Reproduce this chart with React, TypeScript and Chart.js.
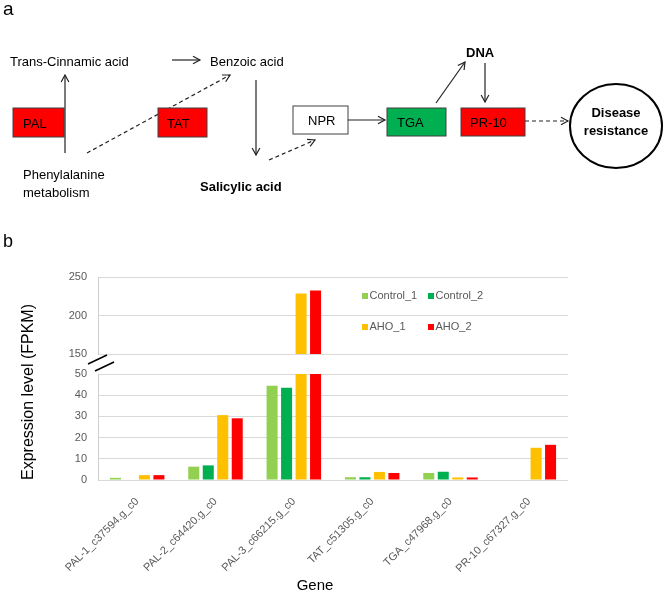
import React, { useEffect, useRef } from "react";
import { Chart, registerables } from "chart.js";

Chart.register(...registerables);

const categories = [
  "PAL-1_c37594.g_c0",
  "PAL-2_c64420.g_c0",
  "PAL-3_c66215.g_c0",
  "TAT_c51305.g_c0",
  "TGA_c47968.g_c0",
  "PR-10_c67327.g_c0",
];
const seriesNames = ["Control_1", "Control_2", "AHO_1", "AHO_2"];
const control1 = [1.0, 6.3, 44.5, 1.3, 3.3, 0];
const control2 = [0, 6.9, 43.5, 1.3, 3.9, 0];
const aho1 = [2.3, 30.6, 228.5, 3.8, 1.2, 15.2];
const aho2 = [2.3, 29.1, 232.5, 3.3, 1.2, 16.6];
const seriesColors = ["#92D050", "#00B050", "#FFC000", "#FF0000"];
const upperTicks = { min: 150, max: 250, step: 50 };
const lowerTicks = { min: 0, max: 50, step: 10 };

const FONT = "'Liberation Sans', Arial, sans-serif";
const TICK_COLOR = "#595959";
const GRID = "#D9D9D9";

function makeDatasets() {
  const values = [control1, control2, aho1, aho2];
  return seriesNames.map((name, i) => ({
    label: name,
    data: values[i],
    backgroundColor: seriesColors[i],
    borderWidth: 0,
    clip: 0,
  }));
}

const gridLegend = {
  id: "gridLegend",
  afterDraw(chart: any) {
    const { ctx, chartArea } = chart;
    ctx.save();
    chart.data.datasets.forEach((ds: any, i: number) => {
      const col = i % 2;
      const row = Math.floor(i / 2);
      const x = chartArea.left + 264 + col * 66;
      const y = chartArea.top + 19 + row * 31;
      ctx.fillStyle = ds.backgroundColor;
      ctx.fillRect(x, y - 3, 6, 6);
      ctx.fillStyle = TICK_COLOR;
      ctx.font = `11px ${FONT}`;
      ctx.textBaseline = "middle";
      ctx.textAlign = "left";
      ctx.fillText(ds.label, x + 7.5, y);
    });
    ctx.restore();
  },
};

function yScale(range: { min: number; max: number; step: number }) {
  return {
    min: range.min,
    max: range.max,
    ticks: {
      stepSize: range.step,
      padding: 0,
      color: TICK_COLOR,
      font: { family: FONT, size: 11 },
    },
    grid: { color: GRID, drawTicks: true, tickLength: 11, tickColor: "rgba(0,0,0,0)" },
    border: { display: true, color: "#CFCFCF" },
    afterFit: (s: any) => {
      s.width = 98;
    },
  };
}

function Arrow({ x1, y1, x2, y2, dashed }: { x1: number; y1: number; x2: number; y2: number; dashed?: boolean }) {
  const a = Math.atan2(y2 - y1, x2 - x1);
  const L = 8;
  const sp = 0.5;
  const hx1 = x2 - L * Math.cos(a - sp);
  const hy1 = y2 - L * Math.sin(a - sp);
  const hx2 = x2 - L * Math.cos(a + sp);
  const hy2 = y2 - L * Math.sin(a + sp);
  return (
    <g stroke="#222" strokeWidth={1.2} fill="none">
      <line x1={x1} y1={y1} x2={x2} y2={y2} strokeDasharray={dashed ? "4 3" : undefined} />
      <polyline points={`${hx1},${hy1} ${x2},${y2} ${hx2},${hy2}`} />
    </g>
  );
}

export default function App() {
  const topRef = useRef<HTMLCanvasElement>(null);
  const botRef = useRef<HTMLCanvasElement>(null);

  useEffect(() => {
    const common = {
      responsive: false,
      animation: false as const,
      devicePixelRatio: 1,
      plugins: { legend: { display: false }, tooltip: { enabled: false } },
      datasets: { bar: { categoryPercentage: 0.74, barPercentage: 0.76 } },
    };
    const top = new Chart(topRef.current!, {
      type: "bar",
      data: { labels: categories, datasets: makeDatasets() as any },
      options: {
        ...common,
        layout: { padding: { top: 15, bottom: 8, left: 0, right: 98 } },
        scales: {
          x: { display: false },
          y: yScale(upperTicks) as any,
        },
      } as any,
      plugins: [gridLegend],
    });
    const bottom = new Chart(botRef.current!, {
      type: "bar",
      data: { labels: categories, datasets: makeDatasets() as any },
      options: {
        ...common,
        layout: { padding: { top: 10, bottom: 0, left: 0, right: 98 } },
        scales: {
          x: {
            ticks: {
              minRotation: 45,
              maxRotation: 45,
              autoSkip: false,
              padding: 15,
              color: TICK_COLOR,
              font: { family: FONT, size: 11 },
            },
            grid: { display: false, drawTicks: false },
            border: { display: false },
            afterFit: (s: any) => {
              s.height = 114;
            },
          },
          y: yScale(lowerTicks) as any,
        },
      } as any,
    });
    return () => {
      top.destroy();
      bottom.destroy();
    };
  }, []);

  const txt = { fontFamily: FONT, fill: "#000" } as const;

  return (
    <div style={{ position: "absolute", left: 0, top: 0, width: 666, height: 594, background: "#fff" }}>
      <canvas ref={topRef} width={666} height={100} style={{ position: "absolute", left: 0, top: 262, width: 666, height: 100 }} />
      <canvas ref={botRef} width={666} height={230} style={{ position: "absolute", left: 0, top: 364, width: 666, height: 230 }} />
      <svg width={666} height={594} style={{ position: "absolute", left: 0, top: 0, pointerEvents: "none" }}>
        {/* panel labels */}
        <text x={3} y={15} fontSize={19} {...txt}>a</text>
        <text x={3} y={247} fontSize={18} {...txt}>b</text>

        {/* pathway diagram */}
        <text x={10} y={66} fontSize={13} {...txt}>Trans-Cinnamic acid</text>
        <text x={210} y={66} fontSize={13} {...txt}>Benzoic acid</text>
        <Arrow x1={172} y1={60} x2={200} y2={60} />
        <Arrow x1={87} y1={153} x2={230} y2={75} dashed />
        <rect x={13} y={108} width={51} height={29} fill="#FF0000" stroke="#404040" strokeWidth={1} />
        <rect x={158} y={108} width={49} height={29} fill="#FF0000" stroke="#404040" strokeWidth={1} />
        <Arrow x1={65} y1={153} x2={65} y2={75} />
        <text x={23} y={127.5} fontSize={13} {...txt}>PAL</text>
        <text x={167} y={127.5} fontSize={13} {...txt}>TAT</text>
        <Arrow x1={256} y1={80} x2={256} y2={155} />
        <Arrow x1={269} y1={160} x2={315} y2={140} dashed />
        <text x={23} y={179} fontSize={13} {...txt}>Phenylalanine</text>
        <text x={23} y={196.5} fontSize={13} {...txt}>metabolism</text>
        <text x={200} y={191} fontSize={13} fontWeight="bold" {...txt}>Salicylic acid</text>
        <rect x={293} y={106} width={55} height={28} fill="#fff" stroke="#404040" strokeWidth={1} />
        <text x={308} y={125} fontSize={13} {...txt}>NPR</text>
        <Arrow x1={348} y1={120} x2={385} y2={120} />
        <rect x={387} y={108} width={59} height={28} fill="#00B050" stroke="#404040" strokeWidth={1} />
        <text x={397} y={127} fontSize={13} {...txt}>TGA</text>
        <rect x={461} y={108} width={64} height={28} fill="#FF0000" stroke="#404040" strokeWidth={1} />
        <text x={470} y={127} fontSize={13} {...txt}>PR-10</text>
        <Arrow x1={436} y1={103} x2={465} y2={62} />
        <text x={466} y={57} fontSize={13} fontWeight="bold" {...txt}>DNA</text>
        <Arrow x1={485} y1={63} x2={485} y2={102} />
        <Arrow x1={525} y1={121} x2={568} y2={121} dashed />
        <ellipse cx={616} cy={126} rx={46} ry={42} fill="none" stroke="#000" strokeWidth={2} />
        <text x={616} y={117} fontSize={13} fontWeight="bold" textAnchor="middle" {...txt}>Disease</text>
        <text x={616} y={135} fontSize={13} fontWeight="bold" textAnchor="middle" {...txt}>resistance</text>

        {/* chart extras */}
        <line x1={88} y1={364} x2={107} y2={355} stroke="#000" strokeWidth={1.5} />
        <line x1={95} y1={371} x2={114} y2={362} stroke="#000" strokeWidth={1.5} />
        <text transform="translate(33,392) rotate(-90)" fontSize={16} textAnchor="middle" {...txt}>Expression level (FPKM)</text>
        <text x={315} y={589.5} fontSize={15} textAnchor="middle" {...txt}>Gene</text>
      </svg>
    </div>
  );
}
